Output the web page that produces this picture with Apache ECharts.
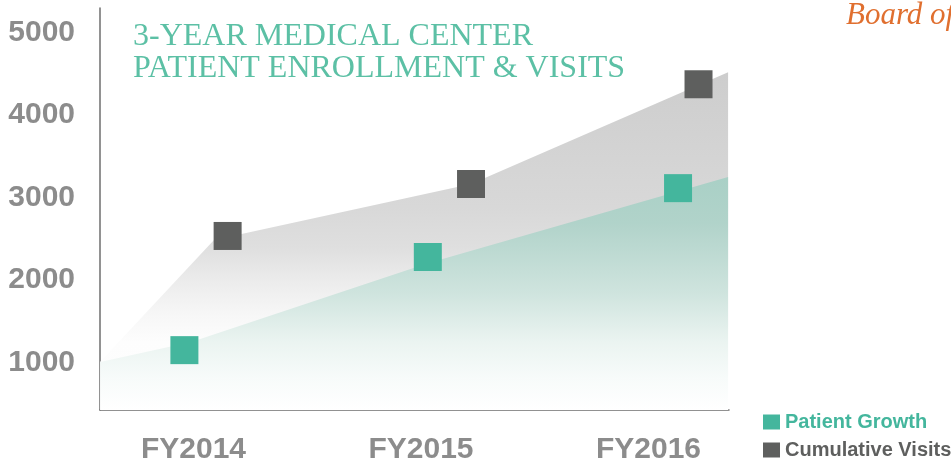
<!DOCTYPE html>
<html>
<head>
<meta charset="utf-8">
<script src="https://cdn.jsdelivr.net/npm/echarts@6/dist/echarts.min.js"></script>
<style>
  html, body { margin: 0; padding: 0; background: #fff; }
  #chart { width: 951px; height: 460px; }
</style>
</head>
<body>
<div id="chart"></div>
<script>
// fiscal years shown on the x axis
const years = [2014, 2015, 2016];
const yTicks = [1000, 2000, 3000, 4000, 5000];

// square markers: [year position, value]
const patientGrowth = [[2013.96, 1150], [2015.03, 2280], [2016.13, 3115]];
const cumulativeVisits = [[2014.15, 2535], [2015.22, 3165], [2016.22, 4375]];

// shaded trend areas behind the markers
const patientArea = [[2013.59, 1005], [2013.99, 1250], [2015.03, 2205], [2016.35, 3250]];
const visitsArea = [[2013.59, 1010], [2014.09, 2485], [2015.22, 3165], [2016.35, 4520]];

const teal = '#44b69d';
const dark = '#5e5f5e';
const labelGray = '#8c8c8c';

const chart = echarts.init(document.getElementById('chart'));

chart.setOption({
  animation: false,
  title: [
    {
      text: '3-YEAR MEDICAL CENTER\nPATIENT ENROLLMENT & VISITS',
      left: 133,
      top: 21,
      padding: 0,
      textStyle: {
        fontFamily: 'Liberation Serif',
        fontWeight: 'normal',
        fontSize: 32,
        lineHeight: 32,
        color: '#5cc0a5'
      }
    },
    {
      text: 'Board of',
      left: 846,
      top: 0,
      padding: 0,
      textStyle: {
        fontFamily: 'Liberation Serif',
        fontStyle: 'italic',
        fontWeight: 'normal',
        fontSize: 31,
        color: '#e06f2f'
      }
    }
  ],
  legend: {
    orient: 'vertical',
    left: 763,
    top: 412,
    padding: 0,
    itemWidth: 17,
    itemHeight: 15,
    itemGap: 8,
    icon: 'rect',
    textStyle: { fontFamily: 'Liberation Sans', fontWeight: 'bold', fontSize: 20 },
    data: [
      { name: 'Patient Growth', textStyle: { color: teal } },
      { name: 'Cumulative Visits', textStyle: { color: dark } }
    ]
  },
  grid: { left: 100, right: 222, top: 8, bottom: 50, outerBoundsMode: 'none' },
  xAxis: {
    type: 'value',
    min: 2013.589,
    max: 2016.354,
    axisLine: { show: true, lineStyle: { color: '#6e6e6e', width: 1.5 } },
    axisTick: { show: false },
    splitLine: { show: false },
    axisLabel: {
      customValues: years,
      formatter: v => 'FY' + Math.round(v),
      margin: 25,
      fontFamily: 'Liberation Sans',
      fontWeight: 'bold',
      fontSize: 30,
      color: labelGray
    }
  },
  yAxis: {
    type: 'value',
    min: 424,
    max: 5300,
    axisLine: { show: true, lineStyle: { color: '#6e6e6e', width: 1.5 } },
    axisTick: { show: false },
    splitLine: { show: false },
    axisLabel: {
      customValues: yTicks,
      formatter: v => String(v),
      margin: 25,
      fontFamily: 'Liberation Sans',
      fontWeight: 'bold',
      fontSize: 30,
      color: labelGray
    }
  },
  series: [
    {
      name: 'visitsArea',
      type: 'line',
      data: visitsArea,
      symbol: 'none',
      silent: true,
      z: 1,
      lineStyle: { width: 0 },
      areaStyle: {
        opacity: 1,
        color: new echarts.graphic.LinearGradient(0, 0, 0, 1, [
          { offset: 0, color: '#cdcdcd' },
          { offset: 0.4, color: '#d8d8d8' },
          { offset: 0.52, color: '#dfdfdf' },
          { offset: 0.62, color: '#ececec' },
          { offset: 0.72, color: '#f7f7f7' },
          { offset: 0.8, color: '#fdfdfd' },
          { offset: 1, color: '#ffffff' }
        ])
      }
    },
    {
      name: 'patientArea',
      type: 'line',
      data: patientArea,
      symbol: 'none',
      silent: true,
      z: 1,
      lineStyle: { width: 0 },
      areaStyle: {
        opacity: 1,
        color: new echarts.graphic.LinearGradient(0, 0, 0, 1, [
          { offset: 0, color: '#a9d0c6' },
          { offset: 0.2, color: '#b1d3ca' },
          { offset: 0.5, color: '#cfe4de' },
          { offset: 0.71, color: '#ebf4f1' },
          { offset: 0.86, color: '#f7fbfa' },
          { offset: 1, color: '#ffffff' }
        ])
      }
    },
    {
      name: 'Patient Growth',
      type: 'scatter',
      data: patientGrowth,
      symbol: 'rect',
      symbolSize: 28,
      z: 5,
      itemStyle: { color: teal, opacity: 1 }
    },
    {
      name: 'Cumulative Visits',
      type: 'scatter',
      data: cumulativeVisits,
      symbol: 'rect',
      symbolSize: 28,
      z: 5,
      itemStyle: { color: dark, opacity: 1 }
    }
  ]
});
</script>
</body>
</html>
